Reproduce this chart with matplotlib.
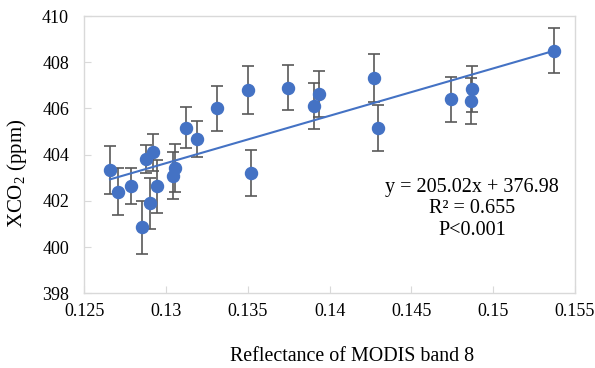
import matplotlib
matplotlib.use('Agg')
import matplotlib.pyplot as plt
import numpy as np

plt.rcParams['font.family'] = ['Liberation Serif', 'DejaVu Serif']
plt.rcParams['mathtext.fontset'] = 'custom'
plt.rcParams['mathtext.rm'] = 'Liberation Serif'

# reflectance of MODIS band 8 vs XCO2 (ppm), with error bars
reflectance = [0.12657, 0.12708, 0.12785, 0.12855, 0.12877, 0.12900, 0.12922, 0.12944,
               0.13040, 0.13054, 0.13122, 0.13189, 0.13313, 0.13499, 0.13519, 0.13743,
               0.13902, 0.13933, 0.14269, 0.14293, 0.14740, 0.14868, 0.14866, 0.15369]
xco2 = [403.33, 402.40, 402.64, 400.85, 403.80, 401.89, 404.11, 402.63,
        403.09, 403.43, 405.17, 404.66, 406.00, 406.80, 403.22, 406.90,
        406.10, 406.61, 407.32, 405.15, 406.39, 406.83, 406.31, 408.50]
xco2_err = [1.05, 1.02, 0.78, 1.13, 0.60, 1.12, 0.80, 1.14,
            1.03, 1.05, 0.88, 0.78, 0.98, 1.03, 0.99, 0.96,
            1.00, 1.00, 1.05, 1.00, 0.98, 1.00, 1.00, 0.96]

slope, intercept = 205.02, 376.98

fig = plt.figure(figsize=(5.95, 3.68), dpi=100)
ax = fig.add_axes([0.1417, 0.203, 0.8247, 0.7535])

ax.errorbar(reflectance, xco2, yerr=xco2_err, fmt='none', ecolor='#595959',
            elinewidth=1.2, capsize=4.5, capthick=1.2, zorder=2)
ax.scatter(reflectance, xco2, s=75, color='#4472C4', zorder=3)

# linear trend line
xs = np.array([min(reflectance), max(reflectance)])
ax.plot(xs, slope * xs + intercept, color='#4472C4', linewidth=1.5, zorder=2)

ax.text(0.1487, 401.65, 'y = 205.02x + 376.98\nR² = 0.655\nP<0.001',
        ha='center', va='center', fontsize=14.5, linespacing=1.2)

ax.set_xlim(0.125, 0.155)
ax.set_ylim(398, 410)
ax.set_xticks(np.arange(0.125, 0.1551, 0.005))
ax.set_xticklabels(['0.125', '0.13', '0.135', '0.14', '0.145', '0.15', '0.155'])
ax.set_yticks(np.arange(398, 411, 2))

for s in ax.spines.values():
    s.set_color('#D9D9D9')
    s.set_linewidth(1)
ax.tick_params(axis='both', direction='in', length=5, color='#D9D9D9', labelsize=13)
ax.tick_params(axis='x', pad=7)
ax.tick_params(axis='y', pad=11)

ax.set_xlabel('Reflectance of MODIS band 8', fontsize=14.4)
ax.xaxis.set_label_coords(0.545, -0.193)
ax.set_ylabel('XCO$_2$ (ppm)', fontsize=15)
ax.yaxis.set_label_coords(-0.113, 0.434)

fig.savefig('out.png', dpi=100)
